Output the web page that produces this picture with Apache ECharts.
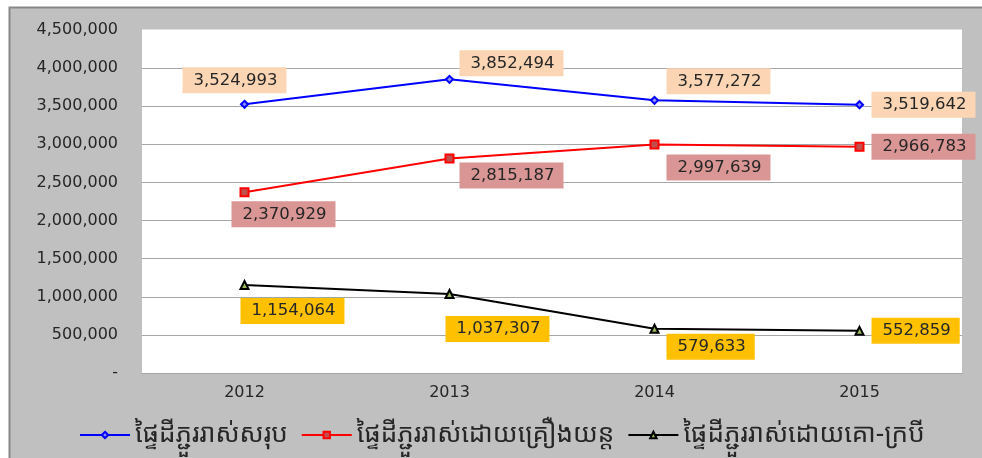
<!DOCTYPE html>
<html>
<head>
<meta charset="utf-8">
<style>
html,body{margin:0;padding:0;background:#ffffff;}
#chart{width:982px;height:458px;}
</style>
<script src="https://cdn.jsdelivr.net/npm/echarts@6/dist/echarts.min.js"></script>
</head>
<body>
<div id="chart"></div>
<script>
const categories = ['2012', '2013', '2014', '2015'];
const seriesNames = ['ផ្ទៃដីភ្ជួររាស់សរុប', 'ផ្ទៃដីភ្ជួររាស់ដោយគ្រឿងយន្ត', 'ផ្ទៃដីភ្ជួររាស់ដោយគោ-ក្របី'];
const totalArea = [3524993, 3852494, 3577272, 3519642];
const machineArea = [2370929, 2815187, 2997639, 2966783];
const animalArea = [1154064, 1037307, 579633, 552859];
const yTicks = [0, 500000, 1000000, 1500000, 2000000, 2500000, 3000000, 3500000, 4000000, 4500000];

// label placement (layout only): [left-edge dx, centre dy] relative to the point
const totalLabelOffsets = [[-62, -24], [10, -16], [12, -19], [12, 0]];
const machineLabelOffsets = [[-13, 22], [10, 17], [12, 23], [12, 0]];
const animalLabelOffsets = [[-4, 26], [-4, 35], [12, 18], [12, 0]];

const FONT = '"DejaVu Sans", Verdana, sans-serif';
const fmt = v => v.toString().replace(/\B(?=(\d{3})+(?!\d))/g, ',');

function buildData(values, offsets, bg) {
  return values.map((v, i) => ({
    value: v,
    label: {
      show: true,
      position: 'inside',
      align: 'left',
      verticalAlign: 'middle',
      offset: offsets[i],
      backgroundColor: bg,
      padding: [4, 9, 4, 11],
      lineHeight: 18,
      fontSize: 16.5,
      fontFamily: FONT,
      color: '#262626',
      formatter: p => fmt(p.value)
    }
  }));
}

const chart = echarts.init(document.getElementById('chart'), null, {renderer: 'canvas'});
const option = {
  backgroundColor: 'transparent',
  animation: false,
  graphic: [
    {type: 'rect', z: -10, silent: true, shape: {x: 9.5, y: 7.5, width: 1000, height: 500},
     style: {fill: '#c0c0c0', stroke: '#878787', lineWidth: 2}},
    {type: 'rect', z: 100, silent: true, shape: {x: 142, y: 29.5, width: 820, height: 1.5},
     style: {fill: '#ffffff'}}
  ],
  grid: {left: 142, top: 30, width: 820, height: 343, show: true, backgroundColor: '#ffffff', borderWidth: 0},
  legend: {
    left: 74, top: 417,
    itemWidth: 50, itemHeight: 8, itemGap: 13,
    textStyle: {fontSize: 26, color: '#262626', fontFamily: '"Noto Sans Khmer","Khmer OS","Noto Sans", sans-serif'},
    data: seriesNames
  },
  xAxis: {
    type: 'category', data: categories, boundaryGap: true,
    axisLine: {show: true, lineStyle: {color: '#a6a6a6', width: 1}},
    axisTick: {show: false},
    axisLabel: {fontSize: 16, color: '#262626', fontFamily: FONT, margin: 12},
    splitLine: {show: false}
  },
  yAxis: {
    type: 'value', min: 0, max: 4500000, interval: 500000,
    axisLine: {show: false}, axisTick: {show: false},
    axisLabel: {fontSize: 16, color: '#262626', fontFamily: FONT, margin: 24,
      formatter: v => (v === 0 ? '-' : fmt(v))},
    splitLine: {show: true, lineStyle: {color: '#a6a6a6', width: 1}}
  },
  series: [
    {
      name: seriesNames[0], type: 'line', data: buildData(totalArea, totalLabelOffsets, '#fcd5b4'),
      symbol: 'diamond', symbolSize: 7,
      lineStyle: {color: '#0000ff', width: 2},
      itemStyle: {color: '#9090ff', borderColor: '#0000ff', borderWidth: 2},
      z: 3
    },
    {
      name: seriesNames[1], type: 'line', data: buildData(machineArea, machineLabelOffsets, '#da9694'),
      symbol: 'rect', symbolSize: 8,
      lineStyle: {color: '#ff0000', width: 2},
      itemStyle: {color: '#c0504d', borderColor: '#ff0000', borderWidth: 2},
      z: 3
    },
    {
      name: seriesNames[2], type: 'line', data: buildData(animalArea, animalLabelOffsets, '#ffc000'),
      symbol: 'triangle', symbolSize: 8,
      lineStyle: {color: '#000000', width: 2},
      itemStyle: {color: '#9bbb59', borderColor: '#000000', borderWidth: 2},
      z: 3
    }
  ]
};
chart.setOption(option);
</script>
</body>
</html>
